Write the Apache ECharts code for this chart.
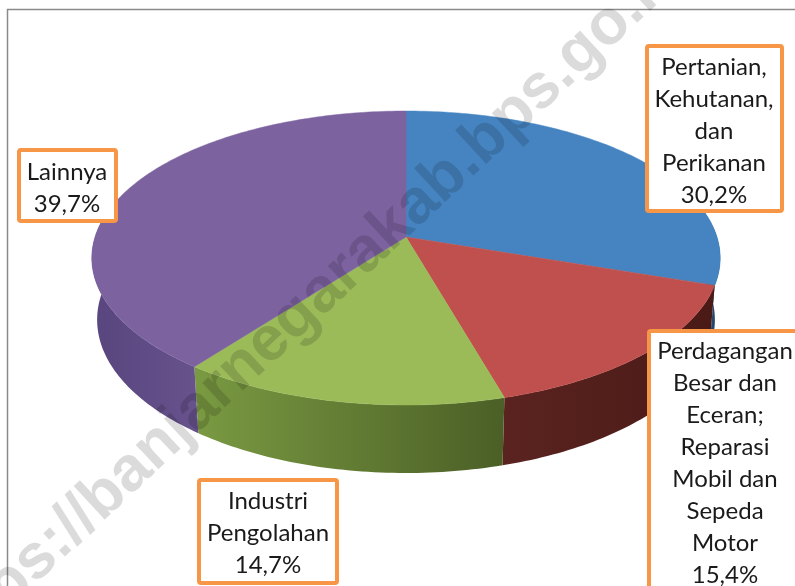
<!DOCTYPE html>
<html>
<head>
<meta charset="utf-8">
<script src="https://cdn.jsdelivr.net/npm/echarts@6/dist/echarts.min.js"></script>
<style>
  html, body { margin: 0; padding: 0; background: #fff; }
  #chart { width: 795px; height: 586px; }
</style>
</head>
<body>
<div id="chart"></div>
<script>
// data
const categories = [
    'Pertanian,\nKehutanan,\ndan\nPerikanan',
    'Perdagangan\nBesar dan\nEceran;\nReparasi\nMobil dan\nSepeda\nMotor',
    'Industri\nPengolahan',
    'Lainnya'
];
const shares = [30.2, 15.4, 14.7, 39.7];

// colours: top face, side wall (left -> right)
const topColors = ['#4584c1', '#c0504d', '#9bbb59', '#7d62a0'];
const wallColors = [
    ['#2d5685', '#23446b'],
    ['#5a231f', '#4a1a17'],
    ['#7a9a42', '#4b5f26'],
    ['#5a4780', '#67528c']
];

// label boxes (layout only)
const boxes = [
    { x: 647, y: 46, w: 135, h: 165, tx: 714, ty: 131 },
    { x: 649, y: 331, w: 170, h: 300, tx: 725, ty: 463 },
    { x: 199, y: 480, w: 138, h: 103, tx: 268, ty: 533 },
    { x: 19, y: 150, w: 97, h: 71, tx: 67, ty: 188 }
];

// 3d projection of the pie (Excel style, slight perspective)
const CX = 406, CY = 237, K = 1928, D = 6.2;
const SIN = 0.463, COS = 0.886, H = 0.226;

function proj(deg, y) {
    const t = deg * Math.PI / 180;
    const X = Math.sin(t), Z = -Math.cos(t);
    const dist = D - (Z * COS + y * SIN);
    return [CX + X * K / dist, CY + (Z * SIN - y * COS) * K / dist];
}

function arcPoints(a, b, y) {
    const pts = [];
    const n = Math.max(2, Math.ceil(Math.abs(b - a)));
    for (let i = 0; i <= n; i++) {
        pts.push(proj(a + (b - a) * i / n, y));
    }
    return pts;
}

const total = shares.reduce((s, v) => s + v, 0);

function renderSlice(params, api) {
    const i = params.dataIndex;
    let before = 0;
    for (let k = 0; k < i; k++) before += shares[k];
    const start = before / total * 360;
    const end = start + api.value(0) / total * 360;

    const children = [];

    // visible side wall
    const ws = Math.max(start, 80), we = Math.min(end, 280);
    if (we > ws) {
        const top = arcPoints(ws, we, 0);
        const bottom = arcPoints(we, ws, -H);
        const pl = proj(ws, 0), pr = proj(we, 0);
        children.push({
            type: 'polygon',
            z2: 1,
            shape: { points: top.concat(bottom) },
            style: {
                fill: new echarts.graphic.LinearGradient(Math.min(pl[0], pr[0]), 0, Math.max(pl[0], pr[0]), 0, [
                    { offset: 0, color: wallColors[i][0] },
                    { offset: 1, color: wallColors[i][1] }
                ], true)
            }
        });
    }

    // top face, from the pie centre
    children.push({
        type: 'polygon',
        z2: 10,
        shape: { points: [[CX, CY]].concat(arcPoints(start, end, 0)) },
        style: { fill: topColors[i], stroke: topColors[i], lineWidth: 0.5 }
    });

    return { type: 'group', children: children };
}

function labelText(i) {
    return categories[i] + '\n' + shares[i].toFixed(1).replace('.', ',') + '%';
}

const labelElements = [];
boxes.forEach(function (b, i) {
    labelElements.push({
        type: 'rect',
        z: 20,
        shape: { x: b.x, y: b.y, width: b.w, height: b.h, r: 2 },
        style: { fill: '#fff', stroke: '#f79646', lineWidth: 4 }
    });
    labelElements.push({
        type: 'text',
        z: 21,
        style: {
            text: labelText(i),
            x: b.tx, y: b.ty,
            fill: '#1a1a1a',
            font: '24px Lato',
            align: 'center', verticalAlign: 'middle',
            textAlign: 'center', textVerticalAlign: 'middle',
            lineHeight: 32
        }
    });
});

const chart = echarts.init(document.getElementById('chart'), null, { renderer: 'canvas' });

const option = {
    backgroundColor: '#fff',
    animation: false,
    series: [{
        type: 'custom',
        coordinateSystem: 'none',
        renderItem: renderSlice,
        data: shares.map(v => [v]),
        silent: true
    }],
    graphic: [
        {
            type: 'rect',
            z: 1,
            shape: { x: 7.5, y: 9.5, width: 820, height: 620 },
            style: { fill: 'none', stroke: '#8a8a8a', lineWidth: 1.5 }
        }
    ].concat(labelElements).concat([
        {
            type: 'text',
            z: 50,
            x: 306, y: 308,
            rotation: 43 * Math.PI / 180,
            style: {
                text: 'https://banjarnegarakab.bps.go.id',
                x: 0, y: 0,
                fill: 'rgba(0,0,0,0.14)',
                font: 'bold 63px "Liberation Sans"',
                align: 'center', verticalAlign: 'middle',
                textAlign: 'center', textVerticalAlign: 'middle'
            }
        }
    ])
};

chart.setOption(option);
</script>
</body>
</html>
